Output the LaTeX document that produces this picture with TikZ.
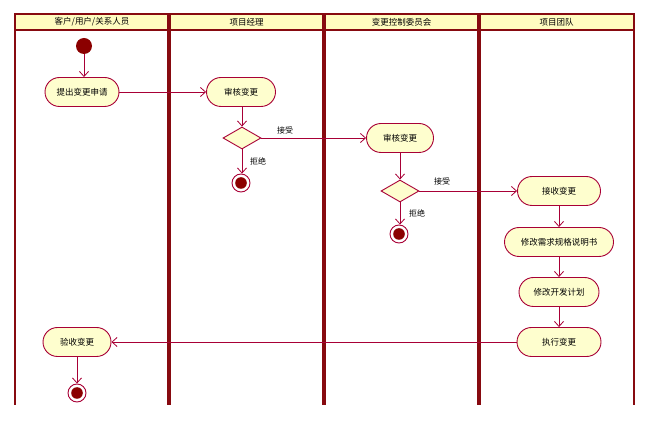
\documentclass[tikz,border=0pt]{standalone}
\usepackage{fontspec}
\setmainfont{Noto Sans CJK SC}
\usetikzlibrary{arrows.meta, shapes.geometric}
\definecolor{Border}{HTML}{A80036}
\definecolor{Lane}{HTML}{870A10}
\definecolor{Body}{HTML}{FEFECE}
\definecolor{Head}{HTML}{FFFCC0}
\definecolor{Dot}{HTML}{8B0000}

\tikzset{
    action/.style={rectangle, rounded corners=14.5pt, draw=Border, fill=Body, line width=0.9pt,
        minimum height=29pt, inner sep=2pt, font=\fontsize{8.5}{10}\selectfont},
    choice/.style={diamond, draw=Border, fill=Body, line width=0.9pt, inner sep=0pt,
        minimum width=38pt, minimum height=22pt},
    startdot/.style={circle, fill=Dot, minimum size=16pt, inner sep=0pt},
    enddot/.style={circle, draw=Border, fill=white, line width=0.9pt, minimum size=18pt, inner sep=0pt,
        path picture={\fill[Dot] (path picture bounding box.center) circle (5.8pt);}},
    flow/.style={draw=Border, line width=0.8pt, -{Straight Barb[length=5pt, width=9pt]}},
    guard/.style={font=\fontsize{8}{9}\selectfont, inner sep=1pt},
    lane/.style={draw=Lane},
    lanehead/.style={font=\fontsize{8.5}{10}\selectfont, inner sep=0pt}
}

\begin{document}
\begin{tikzpicture}[x=1pt, y=-1pt]
    \useasboundingbox (0,0) rectangle (648,427);

    % Swimlanes
    \fill[Head] (15,14) rectangle (634,30);
    \draw[lane, line width=1.2pt] (15,30) -- (634,30);
    \draw[lane, line width=2pt] (14,14) -- (635,14);
    \draw[lane, line width=2pt] (15,14) -- (15,405);
    \draw[lane, line width=3.5pt] (169,14) -- (169,405);
    \draw[lane, line width=3.5pt] (324,14) -- (324,405);
    \draw[lane, line width=3.5pt] (479,14) -- (479,405);
    \draw[lane, line width=2pt] (634,14) -- (634,405);
    \node[lanehead] (h1) at (92,22) {客户/用户/关系人员};
    \node[lanehead] (h2) at (246.5,22) {项目经理};
    \node[lanehead] (h3) at (401.5,22) {变更控制委员会};
    \node[lanehead] (h4) at (556.5,22) {项目团队};

    % Activities
    \node[startdot] (start) at (84,46) {};
    \node[action, minimum width=74pt] (submit) at (82,92) {提出变更申请};
    \node[action, minimum width=69pt] (pmreview) at (241,92) {审核变更};
    \node[choice] (pmcheck) at (242,138) {};
    \node[enddot] (pmend) at (241,183) {};
    \node[action, minimum width=67pt] (ccbreview) at (400,138) {审核变更};
    \node[choice] (ccbcheck) at (400,191) {};
    \node[enddot] (ccbend) at (399,234) {};
    \node[action, minimum width=83pt] (receive) at (559,191) {接收变更};
    \node[action, minimum width=109pt] (spec) at (559,242) {修改需求规格说明书};
    \node[action, minimum width=80pt] (plan) at (559,292) {修改开发计划};
    \node[action, minimum width=84pt] (execute) at (559,342) {执行变更};
    \node[action, minimum width=68pt] (accept) at (77,342) {验收变更};
    \node[enddot] (finish) at (77,393) {};

    % Guards
    \node[guard] (pmyes) at (285,130) {接受};
    \node[guard] (pmno) at (258,161) {拒绝};
    \node[guard] (ccbyes) at (442,181) {接受};
    \node[guard] (ccbno) at (417,213) {拒绝};

    % Flows
    \draw[flow] (start) -- (start |- submit.north);
    \draw[flow] (submit) -- (pmreview);
    \draw[flow] (pmreview.south -| pmcheck) -- (pmcheck);
    \draw[flow] (pmcheck) -- (ccbreview);
    \draw[flow] (pmcheck.south) -- (pmcheck.south |- pmend.north);
    \draw[flow] (ccbreview) -- (ccbcheck);
    \draw[flow] (ccbcheck) -- (receive);
    \draw[flow] (ccbcheck.south) -- (ccbcheck.south |- ccbend.north);
    \draw[flow] (receive) -- (spec);
    \draw[flow] (spec) -- (plan);
    \draw[flow] (plan) -- (execute);
    \draw[flow] (execute) -- (accept);
    \draw[flow] (accept) -- (finish);
\end{tikzpicture}
\end{document}
